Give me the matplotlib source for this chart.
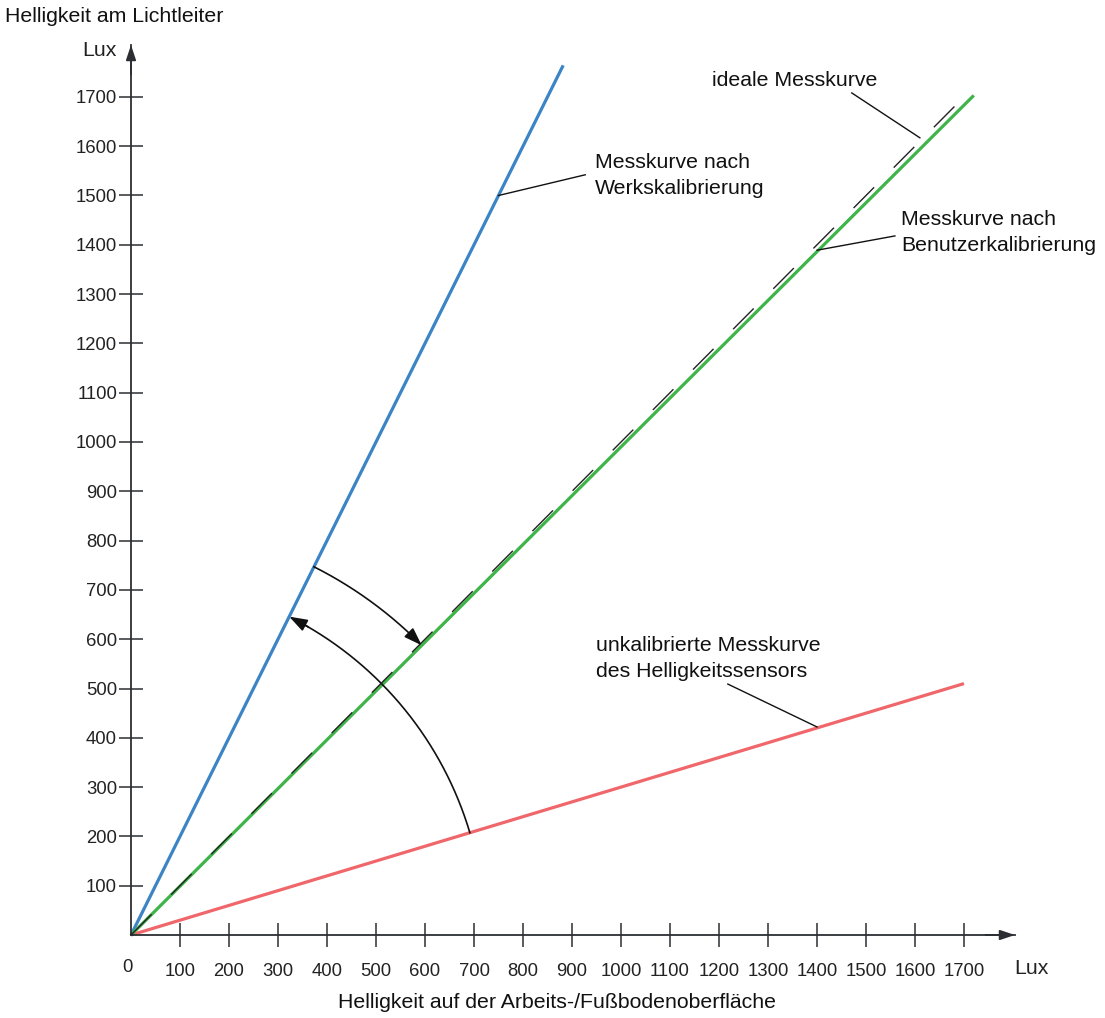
import numpy as np
import matplotlib
matplotlib.use("Agg")
import matplotlib.pyplot as plt

plt.rcParams['font.family'] = ['Liberation Sans', 'DejaVu Sans']

# ---- data ----
x_ticks = [100, 200, 300, 400, 500, 600, 700, 800, 900, 1000, 1100, 1200, 1300, 1400, 1500, 1600, 1700]
y_ticks = [100, 200, 300, 400, 500, 600, 700, 800, 900, 1000, 1100, 1200, 1300, 1400, 1500, 1600, 1700]

werk_x = [0, 882]
werk_y = [0, 1764]
benutzer_x = [0, 1720]
benutzer_y = [0, 1703]
ideal_x = [0, 1705]
ideal_y = [0, 1705]
unkal_x = [0, 1700]
unkal_y = [0, 510]

c_blue = '#3b84c6'
c_green = '#3fb449'
c_red = '#f0676b'
c_axis = '#2b2f33'

W, H = 1105, 1018
fig = plt.figure(figsize=(W / 100, H / 100), dpi=100)

# axes geometry in pixels
ox, oy = 131, 935          # origin
px_x, px_y = 0.49, 0.493   # pixels per data unit
xend, yend = 1015, 45
xmax = (xend - ox) / px_x
ymax = (oy - yend) / px_y
ax = fig.add_axes([ox / W, (H - oy) / H, (xend - ox) / W, (oy - yend) / H])
ax.set_xlim(0, xmax)
ax.set_ylim(0, ymax)
for s in ['top', 'right']:
    ax.spines[s].set_visible(False)
for s in ['left', 'bottom']:
    ax.spines[s].set_color(c_axis)
    ax.spines[s].set_linewidth(1.3)
ax.set_xticks(x_ticks)
ax.set_yticks(y_ticks)
ax.tick_params(direction='inout', length=17, width=1.1, color=c_axis,
               labelsize=13.3, labelcolor='#222222')
ax.tick_params(axis='x', pad=12)
ax.tick_params(axis='y', pad=1.5)
ax.set_xticklabels([str(v) for v in x_ticks])
ax.set_yticklabels([str(v) for v in y_ticks])

# axis arrows
ax.annotate('', xy=(xmax, 0), xytext=(xmax - 60, 0),
            arrowprops=dict(arrowstyle='-|>,head_length=0.9,head_width=0.3', color=c_axis, lw=1.3,
                            shrinkA=0, shrinkB=0), annotation_clip=False)
ax.annotate('', xy=(0, ymax), xytext=(0, ymax - 60),
            arrowprops=dict(arrowstyle='-|>,head_length=0.9,head_width=0.3', color=c_axis, lw=1.3,
                            shrinkA=0, shrinkB=0), annotation_clip=False)

# curves
ax.plot(unkal_x, unkal_y, color=c_red, lw=2.3, solid_capstyle='butt', clip_on=False)
ax.plot(werk_x, werk_y, color=c_blue, lw=2.3, solid_capstyle='butt', clip_on=False)
ax.plot(benutzer_x, benutzer_y, color=c_green, lw=2.3, solid_capstyle='butt', clip_on=False)
ax.plot(ideal_x, ideal_y, color='#222222', lw=1.0, dashes=(21, 20), clip_on=False, zorder=3)

# arcs (centered on the origin)
def slope_angle(xs, ys):
    return np.arctan2(ys[1], xs[1])

a_blue = slope_angle(werk_x, werk_y)
a_green = slope_angle(benutzer_x, benutzer_y)
a_red = slope_angle(unkal_x, unkal_y)

def arc(r, a0, a1):
    t = np.linspace(a0, a1, 200)
    xs = r * np.cos(t)
    ys = r * np.sin(t)
    ax.plot(xs[:-10], ys[:-10], color='#111111', lw=1.2)
    ax.annotate('', xy=(xs[-1], ys[-1]), xytext=(xs[-16], ys[-16]),
                arrowprops=dict(arrowstyle='-|>,head_length=1.1,head_width=0.38',
                                color='#111111', lw=1.2, shrinkA=0, shrinkB=0))

arc(835, a_blue, a_green)
arc(722, a_red, a_blue)

# annotations
fs = 15.3
ls = 1.47
def leader(p0, p1):
    ax.plot([p0[0], p1[0]], [p0[1], p1[1]], color='#111111', lw=1.0, clip_on=False)

leader((750, 1500), (927, 1542))
ax.text(947, 1540, 'Messkurve nach\nWerkskalibrierung', fontsize=fs, va='center', ha='left',
        linespacing=ls, color='#111111')

leader((1471, 1708), (1610, 1617))
ax.text(1185, 1734, 'ideale Messkurve', fontsize=fs, va='center', ha='left', color='#111111')

leader((1400, 1389), (1559, 1418))
ax.text(1571, 1424, 'Messkurve nach\nBenutzerkalibrierung', fontsize=fs, va='center', ha='left',
        linespacing=ls, color='#111111')

leader((1218, 509), (1400, 422))
ax.text(949, 560, 'unkalibrierte Messkurve\ndes Helligkeitssensors', fontsize=fs, va='center',
        ha='left', linespacing=ls, color='#111111')

# other texts
fig.text(127 / W, 1 - 968 / H, '0', fontsize=13.3, ha='center', va='center', color='#222222')
fig.text(1031 / W, 1 - 969 / H, 'Lux', fontsize=fs, ha='center', va='center', color='#222222')
fig.text(99 / W, 1 - 50 / H, 'Lux', fontsize=fs, ha='center', va='center', color='#222222')
fig.text(5 / W, 1 - 17 / H, 'Helligkeit am Lichtleiter', fontsize=fs, ha='left', va='center',
         color='#111111')
fig.text(557 / W, 1 - 1003 / H, 'Helligkeit auf der Arbeits-/Fußbodenoberfläche', fontsize=fs,
         ha='center', va='center', color='#111111')

fig.savefig('out.png', dpi=100)
